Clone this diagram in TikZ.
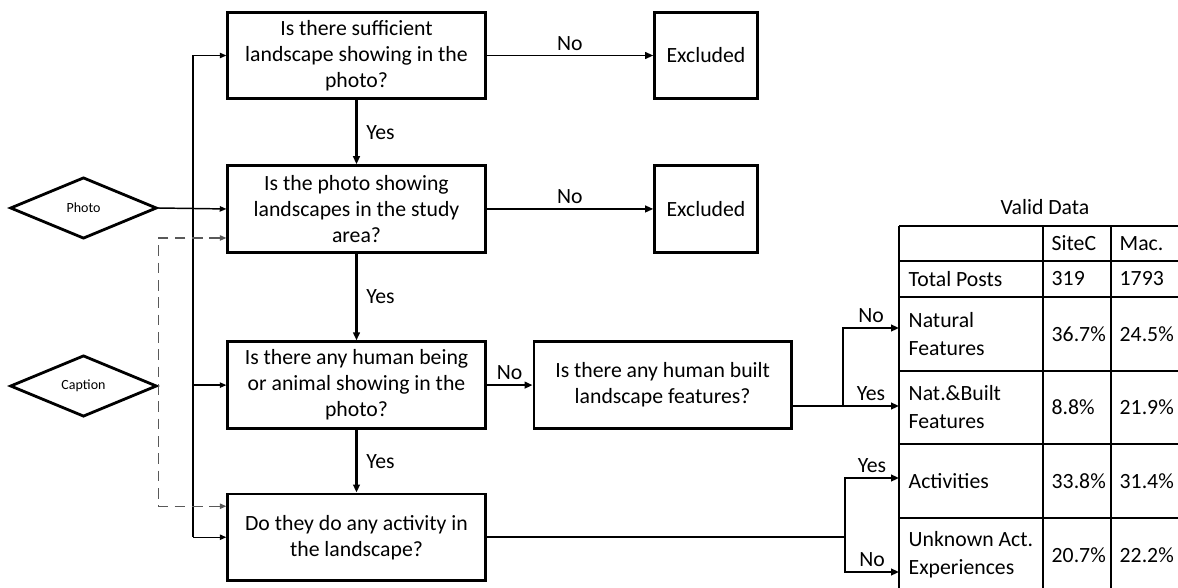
\documentclass[tikz,border=0pt]{standalone}
\usepackage{fontspec}
\setmainfont{Carlito}
\usepackage{tikz}
\usetikzlibrary{shapes.geometric, arrows.meta, positioning, calc}
\newcommand{\qfont}{\fontsize{16.3}{19.5}\selectfont}
\newcommand{\diafont}{\fontsize{10.5}{12}\selectfont}
\newcommand{\tabfont}{\fontsize{16.3}{21}\selectfont}

\begin{document}
\begin{tikzpicture}[
    x=0.75pt, y=-0.75pt,
    q/.style={rectangle, draw, line width=2.1pt, minimum width=193pt,
              minimum height=65pt, align=center, font=\qfont},
    excl/.style={q, minimum width=77pt},
    src/.style={diamond, draw, line width=2.1pt, minimum width=110pt,
                minimum height=46pt, inner sep=0pt, font=\diafont},
    yes/.style={-{Triangle[length=6pt, width=5pt]}, line width=2pt},
    no/.style={-{Triangle[length=6pt, width=5pt]}, line width=1.3pt},
    feed/.style={-{Triangle[length=5pt, width=4pt]}, line width=1.1pt},
    dline/.style={{Triangle[length=5pt, width=4pt]}-{Triangle[length=5pt, width=4pt]},
                  line width=1.1pt, draw=black!65, dash pattern=on 8pt off 5pt},
    branch/.style={-{Triangle[length=6pt, width=5pt]}, line width=1.8pt},
    lbl/.style={font=\qfont},
    cell/.style={anchor=west, align=left, font=\tabfont},
    grid/.style={line width=0.8pt}
]
\path[use as bounding box, clip] (0,0) rectangle (1178,588);

% questions
\node[q] (q1) at (356.5,55.5) {Is there sufficient\\landscape showing in the\\photo?};
\node[q, below=48pt of q1] (q2) {Is the photo showing\\landscapes in the study\\area?};
\node[q, below=65pt of q2] (q3) {Is there any human being\\or animal showing in the\\photo?};
\node[q, below=47pt of q3] (q4) {Do they do any activity in\\the landscape?};
\node[excl, right=125pt of q1] (ex1) {Excluded};
\node[excl, right=125pt of q2] (ex2) {Excluded};
\node[q, right=34.5pt of q3] (hb) {Is there any human built\\landscape features?};

% sources
\node[src] (photo) at (83.5,208) {Photo};
\node[src] (caption) at (83.5,386) {Caption};
\coordinate (bus) at (193,0);
\coordinate (q2in) at ($(q2.west)+(0,29)$);
\coordinate (q4in) at ($(q4.west)+(0,-31)$);

% table
\node[font=\tabfont] (valid) at (1045,207) {Valid Data};
\foreach \x in {899,1043,1111}
    \draw[grid] (\x,226) -- (\x,600);
\foreach \y in {226,261,297,371,444,518}
    \draw[grid] (899,\y) -- (1190,\y);
\node[cell] (hsite) at (1047,243.5) {SiteC};
\node[cell] (hmac)  at (1115,243.5) {Mac.};
\node[cell] (total) at (904,279) {Total Posts};
\node[cell] at (1047,279) {319};
\node[cell] at (1115,279) {1793};
\node[cell] (natural) at (904,334) {Natural\\Features};
\node[cell] at (1047,334) {36.7\%};
\node[cell] at (1115,334) {24.5\%};
\node[cell] (natbuilt) at (904,407.5) {Nat.\&Built\\Features};
\node[cell] at (1047,407.5) {8.8\%};
\node[cell] at (1115,407.5) {21.9\%};
\node[cell] (activities) at (904,481) {Activities};
\node[cell] at (1047,481) {33.8\%};
\node[cell] at (1115,481) {31.4\%};
\node[cell] (unknown) at (904,555) {Unknown Act.\\Experiences};
\node[cell] at (1047,555) {20.7\%};
\node[cell] at (1115,555) {22.2\%};
\coordinate (rowNF)  at (899,328);
\coordinate (rowNB)  at (899,406);
\coordinate (rowAct) at (899,478);
\coordinate (rowUnk) at (899,572);
\coordinate (split1) at (843,406);
\coordinate (split2) at (845,0);

% flow
\draw[yes] (q1) -- node[lbl, right, xshift=3pt]{Yes} (q2);
\draw[yes] (q2) -- node[lbl, right, xshift=3pt]{Yes} (q3);
\draw[yes] (q3) -- node[lbl, right, xshift=3pt]{Yes} (q4);
\draw[no] (q1) -- node[lbl, above]{No} (ex1);
\draw[no] (q2) -- node[lbl, above]{No} (ex2);
\draw[no, line width=1.8pt] (q3) -- node[lbl, above]{No} (hb);

% feeders
\draw[feed] (photo.east) -- (q2.west);
\draw[line width=1.1pt] (bus |- q1.west) -- (bus |- q4.west);
\draw[feed] (bus |- q1.west) -- (q1.west);
\draw[feed] (bus |- q3.west) -- (q3.west);
\draw[feed] (bus |- q4.west) -- (q4.west);
\draw[dline] (q2in) -| (caption.east) |- (q4in);

% results
\draw[branch] (hb.east |- split1) -- (split1) -- node[lbl, above]{Yes} (rowNB);
\draw[branch] (split1) |- node[lbl, above, pos=0.75]{No} (rowNF);
\draw[line width=1.8pt] (q4.east) -- (split2 |- q4.east);
\draw[branch] (split2 |- q4.east) |- node[lbl, above, pos=0.75]{Yes} (rowAct);
\draw[branch] (split2 |- q4.east) |- node[lbl, above, pos=0.75]{No} (rowUnk);
\end{tikzpicture}
\end{document}
